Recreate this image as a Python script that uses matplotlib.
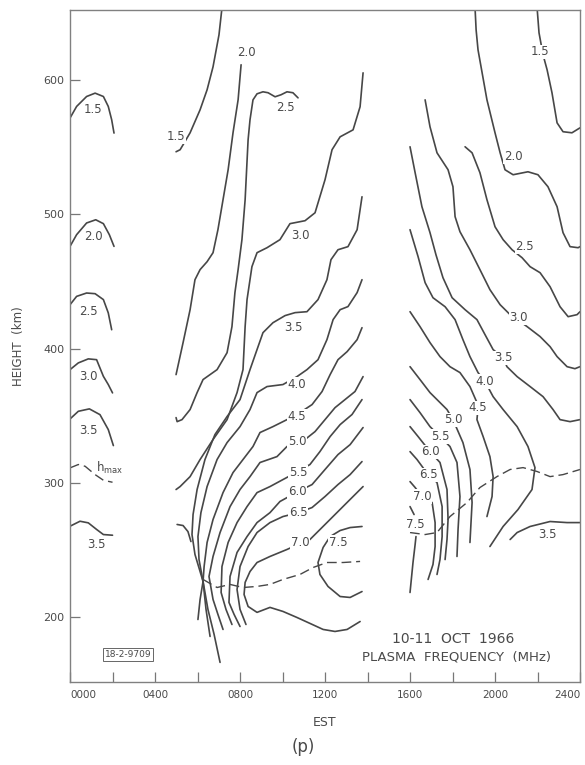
import matplotlib
matplotlib.use("Agg")
import matplotlib.pyplot as plt

plt.rcParams['font.family'] = ['DejaVu Sans']

# contour lines of plasma frequency, (EST hour, height km)
# left edge, 0000-0200
arc_15 = [(0, 571.6), (0.31, 580.2), (0.78, 587.6), (1.18, 590.1), (1.57, 587.6), (1.8, 580.2), (1.96, 570.3), (2.07, 560.4)]
arc_20 = [(0, 476.1), (0.31, 484.8), (0.78, 493.5), (1.21, 495.9), (1.57, 493.0), (1.85, 484.8), (2.07, 476.1)]
arc_25 = [(0, 432.7), (0.31, 438.9), (0.78, 441.4), (1.18, 440.9), (1.57, 436.5), (1.8, 426.6), (1.96, 414.1)]
arc_30 = [(0, 384.4), (0.39, 389.4), (0.86, 392.4), (1.25, 391.8), (1.57, 379.4), (1.8, 373.3), (2.0, 367.1)]
arc_35a = [(0, 347.7), (0.39, 353.4), (0.91, 355.2), (1.41, 350.9), (1.8, 339.8), (2.04, 327.9)]
arc_35b = [(0, 267.9), (0.47, 271.6), (0.86, 270.4), (1.25, 265.5), (1.57, 261.7), (2.0, 261.2)]
hmax_a = [(0, 311.3), (0.39, 313.8), (0.71, 312.5), (1.18, 306.3), (1.57, 302.1), (2.0, 300.6)]

# morning, 0500-1400
c15 = [(7.15, 653.5), (7.01, 633.5), (6.73, 609.7), (6.45, 592.6), (6.12, 577.7), (5.65, 560.6), (5.32, 551.7), (5.18, 548.0), (4.99, 546.5)]
c20 = [(8.05, 611.2), (7.91, 585.2), (7.67, 560.6), (7.44, 533.1), (7.2, 510.8), (6.96, 488.5), (6.73, 471.4), (6.45, 464.7),
       (6.12, 458.8), (5.88, 451.3), (5.65, 429.0), (5.32, 404.5), (4.99, 380.7)]
c25 = [(10.73, 586.6), (10.49, 590.4), (10.21, 591.1), (9.93, 588.9), (9.65, 587.4), (9.32, 590.4), (9.08, 591.1), (8.8, 589.6),
       (8.61, 585.1), (8.47, 570.3), (8.38, 555.4), (8.24, 510.8), (8.09, 481.1), (7.91, 458.8), (7.76, 441.7), (7.62, 416.4),
       (7.39, 397.0), (6.92, 384.4), (6.26, 377.0), (5.98, 367.3), (5.65, 354.7), (5.27, 347.2), (5.04, 345.7), (4.99, 348.7)]
c30 = [(13.79, 605.2), (13.65, 580.0), (13.32, 562.8), (12.71, 557.6), (12.33, 548.0), (12.0, 525.7), (11.53, 501.1), (11.06, 495.2),
       (10.35, 493.0), (9.88, 481.1), (9.27, 475.1), (8.8, 471.4), (8.56, 461.0), (8.33, 436.5), (8.24, 416.4), (8.14, 384.4),
       (7.86, 367.3), (7.39, 347.2), (6.73, 332.4), (6.12, 317.5), (5.65, 304.8), (5.18, 297.4), (4.99, 295.2)]
c35 = [(13.74, 513.0), (13.51, 488.5), (13.08, 475.9), (12.61, 473.6), (12.28, 466.2), (12.09, 451.3), (11.67, 436.5), (11.15, 427.5),
       (10.59, 426.8), (10.12, 424.6), (9.55, 419.3), (9.08, 411.9), (8.8, 399.3), (8.47, 384.4), (8.0, 362.1), (7.39, 349.5),
       (6.82, 336.1), (6.35, 317.5), (5.98, 295.2), (5.79, 276.6), (5.74, 261.7), (5.88, 246.9), (6.12, 234.2), (6.26, 226.8),
       (6.12, 213.4), (6.02, 198.5)]
c35_hook = [(5.04, 269.2), (5.32, 268.4), (5.55, 263.9), (5.69, 256.5)]
c40 = [(13.74, 451.3), (13.51, 441.7), (13.08, 431.3), (12.71, 429.0), (12.38, 421.6), (12.09, 406.7), (11.67, 391.8), (11.15, 384.4),
       (10.68, 379.2), (10.02, 373.3), (9.27, 371.8), (8.8, 367.3), (8.47, 354.7), (8.0, 342.0), (7.39, 330.1), (6.92, 317.5),
       (6.45, 297.4), (6.16, 278.0), (6.02, 260.2), (6.07, 243.1), (6.26, 226.8), (6.4, 206.0), (6.59, 185.9)]
c45 = [(13.74, 415.6), (13.51, 406.7), (13.04, 397.8), (12.61, 391.8), (12.24, 380.7), (11.86, 368.1), (11.39, 358.4), (10.82, 352.4),
       (10.21, 347.2), (9.55, 342.0), (8.94, 337.6), (8.61, 327.2), (8.14, 317.5), (7.67, 307.8), (7.2, 292.9), (6.73, 272.9),
       (6.45, 255.8), (6.31, 237.9), (6.26, 226.8), (6.49, 206.0), (6.78, 187.4), (7.06, 166.6)]
c50 = [(13.79, 379.2), (13.41, 368.1), (12.94, 362.1), (12.47, 356.1), (12.0, 347.2), (11.53, 338.3), (11.06, 332.4), (10.68, 330.1),
       (10.21, 327.2), (9.74, 319.7), (8.94, 315.3), (8.47, 304.8), (8.0, 295.2), (7.53, 282.5), (7.06, 263.2), (6.73, 245.4),
       (6.54, 230.5), (6.73, 213.4), (6.96, 202.3), (7.2, 191.1)]
c55 = [(13.74, 362.1), (13.27, 351.0), (12.71, 343.5), (12.24, 334.6), (11.76, 323.4), (11.29, 313.8), (10.73, 308.6), (10.02, 302.6),
       (9.41, 297.4), (8.8, 292.9), (8.33, 282.5), (7.86, 270.6), (7.44, 255.8), (7.15, 237.9), (7.11, 218.6), (7.34, 206.0), (7.62, 194.8)]
c60 = [(13.79, 341.3), (13.18, 328.6), (12.61, 321.2), (12.0, 310.1), (11.39, 298.9), (10.73, 293.7), (9.88, 286.3), (9.41, 278.0),
       (8.8, 270.6), (8.33, 260.2), (7.86, 248.4), (7.53, 230.5), (7.48, 211.2), (7.72, 202.3), (8.0, 193.3)]
c65 = [(13.74, 316.0), (13.18, 306.3), (12.61, 298.9), (12.0, 290.0), (11.39, 281.8), (10.73, 277.9), (10.02, 275.1), (9.41, 270.6),
       (8.8, 263.2), (8.38, 252.8), (8.0, 237.9), (7.86, 220.8), (8.0, 206.0), (8.28, 194.8)]
c70 = [(13.79, 297.4), (13.18, 287.8), (12.47, 276.6), (11.76, 265.4), (11.29, 258.0), (10.73, 254.3), (10.21, 250.6), (9.41, 245.4),
       (8.8, 240.9), (8.47, 234.2), (8.24, 226.1), (8.19, 217.1), (8.38, 208.2), (8.8, 203.8), (9.41, 207.5), (10.02, 204.5),
       (10.68, 200.0), (11.29, 195.6), (11.91, 191.1), (12.47, 189.6), (13.04, 191.1), (13.65, 197.0)]
c75 = [(13.74, 267.7), (13.18, 266.9), (12.71, 264.7), (12.24, 260.2), (11.91, 252.1), (11.67, 240.9), (11.76, 232.0), (12.14, 223.1),
       (12.71, 215.6), (13.18, 214.9), (13.74, 219.3)]
hmax_b = [(6.26, 228.3), (6.92, 222.3), (7.53, 224.6), (8.14, 222.3), (8.8, 223.1), (9.41, 224.6), (10.02, 228.3), (10.82, 232.0),
          (11.44, 237.2), (12.09, 240.9), (12.85, 240.9), (13.65, 241.7)]

# evening, 1600-2400
r15 = [(21.98, 653.5), (22.07, 635.0), (22.26, 618.6), (22.45, 607.5), (22.68, 590.4), (22.92, 568.0), (23.2, 561.4), (23.62, 560.6), (24.0, 564.3)]
r20 = [(19.06, 653.5), (19.11, 637.2), (19.2, 622.3), (19.62, 585.1), (20.0, 560.6), (20.24, 545.7), (20.47, 533.1), (20.85, 529.4),
       (21.55, 531.6), (22.02, 529.4), (22.49, 520.5), (22.92, 505.6), (23.2, 486.3), (23.53, 475.9), (23.91, 475.1), (24.0, 475.9)]
r25 = [(18.59, 550.2), (18.92, 545.7), (19.29, 530.9), (19.62, 510.8), (20.0, 490.7), (20.38, 481.1), (20.8, 473.6), (21.27, 467.7),
       (21.65, 461.0), (22.12, 456.5), (22.59, 446.1), (23.06, 431.2), (23.44, 423.8), (23.86, 425.3), (24.0, 427.5)]
r30 = [(16.71, 585.1), (16.94, 565.1), (17.27, 545.7), (17.79, 533.1), (18.02, 520.5), (18.12, 498.2), (18.35, 487.0), (18.82, 473.6),
       (19.29, 458.8), (19.76, 443.9), (20.24, 432.7), (20.71, 425.3), (21.18, 420.1), (21.51, 416.4), (22.12, 409.0), (22.59, 401.5),
       (22.92, 394.1), (23.39, 386.6), (23.76, 385.1), (24.0, 386.6)]
r35 = [(16.0, 550.2), (16.24, 530.9), (16.56, 505.6), (16.94, 486.3), (17.22, 469.9), (17.55, 452.8), (17.98, 437.9), (18.59, 429.0),
       (19.15, 421.6), (19.53, 410.4), (19.91, 399.3), (20.38, 393.3), (20.56, 386.6), (21.04, 379.2), (21.65, 371.8), (22.26, 364.3),
       (22.73, 354.7), (23.06, 347.2), (23.53, 345.7), (24.0, 347.2)]
r40 = [(16.0, 488.5), (16.38, 468.4), (16.71, 449.1), (17.08, 437.9), (17.65, 431.2), (18.12, 421.6), (18.49, 406.7), (18.82, 394.1),
       (19.2, 382.2), (19.53, 375.5), (19.91, 364.3), (20.38, 354.7), (21.04, 342.0), (21.55, 327.2), (21.88, 311.5), (21.74, 295.2),
       (21.08, 280.3), (20.38, 267.7), (19.76, 252.8)]
r45 = [(16.0, 427.5), (16.47, 416.4), (16.94, 404.5), (17.41, 394.1), (17.88, 386.6), (18.35, 382.2), (18.82, 371.8), (19.15, 359.9),
       (19.2, 356.1), (19.15, 347.2), (19.44, 334.6), (19.76, 319.7), (19.91, 304.8), (19.86, 290.0), (19.62, 275.1)]
r50 = [(16.0, 386.6), (16.47, 377.0), (16.94, 367.3), (17.41, 359.9), (17.74, 354.7), (18.02, 347.2), (18.49, 330.1), (18.82, 310.1),
       (18.92, 285.5), (18.82, 255.8)]
r55 = [(16.0, 362.1), (16.47, 352.4), (16.94, 342.0), (17.41, 334.6), (17.88, 327.2), (18.21, 315.3), (18.35, 290.0), (18.26, 265.4), (18.21, 245.4)]
r60 = [(16.0, 342.0), (16.38, 334.6), (16.94, 323.4), (17.41, 315.3), (17.74, 295.2), (17.79, 272.9), (17.74, 258.0), (17.65, 243.1)]
r65 = [(16.0, 323.4), (16.33, 317.5), (16.85, 306.3), (17.27, 300.4), (17.51, 282.5), (17.51, 260.2), (17.41, 243.1), (17.27, 232.0)]
r70 = [(16.0, 301.1), (16.24, 296.7), (16.56, 290.0), (17.04, 285.5), (17.18, 270.6), (17.18, 252.8), (17.08, 239.4), (16.85, 228.3)]
r75a = [(16.0, 282.5), (16.19, 276.6)]
r75b = [(16.28, 260.2), (16.24, 254.3), (16.14, 240.9), (16.0, 218.6)]
r35_low = [(20.71, 258.0), (21.04, 263.2), (21.65, 267.7), (22.59, 271.4), (23.39, 270.6), (24.0, 270.6)]
hmax_c = [(16.0, 263.2), (16.71, 261.7), (17.27, 263.2), (17.88, 275.1), (18.68, 285.5), (19.29, 296.7), (20.09, 304.8), (20.71, 310.1),
          (21.32, 311.5), (21.98, 308.6), (22.59, 304.8), (23.2, 306.3), (24.0, 310.1)]

# contour labels: text, EST hour, height
label_text = ['1.5', '2.0', '2.5', '3.0', '3.5', '3.5',
              '1.5', '2.0', '2.5', '3.0', '3.5', '4.0', '4.5', '5.0', '5.5', '6.0', '6.5', '7.0', '7.5',
              '1.5', '2.0', '2.5', '3.0', '3.5', '4.0', '4.5', '5.0', '5.5', '6.0', '6.5', '7.0', '7.5', '3.5']
label_t = [1.07, 1.1, 0.86, 0.86, 0.86, 1.25,
           5.0, 8.28, 10.12, 10.82, 10.49, 10.68, 10.68, 10.68, 10.73, 10.68, 10.73, 10.82, 12.61,
           22.12, 20.85, 21.4, 21.1, 20.38, 19.53, 19.2, 18.02, 17.41, 16.94, 16.85, 16.56, 16.24, 22.45]
label_h = [577.7, 483.5, 427.8, 379.0, 339.3, 254.3,
           557.6, 620.0, 579.2, 484.0, 415.6, 373.3, 349.5, 330.9, 307.8, 293.7, 278.0, 255.8, 255.8,
           620.8, 542.8, 476.0, 423.0, 393.3, 375.5, 356.1, 347.2, 334.6, 323.4, 306.3, 290.0, 269.2, 261.7]

solid_lines = [arc_15, arc_20, arc_25, arc_30, arc_35a, arc_35b,
               c15, c20, c25, c30, c35, c35_hook, c40, c45, c50, c55, c60, c65, c70, c75,
               r15, r20, r25, r30, r35, r40, r45, r50, r55, r60, r65, r70, r75a, r75b, r35_low]
dashed_lines = [hmax_a, hmax_b, hmax_c]

x_ticks = [0, 4, 8, 12, 16, 20, 24]
x_labels = ['0000', '0400', '0800', '1200', '1600', '2000', '2400']
y_ticks = [200, 300, 400, 500, 600]

line_col = '#474747'
text_col = '#4a4a4a'

fig = plt.figure(figsize=(5.85, 7.65), dpi=100)
ax = fig.add_axes([0.1197, 0.1085, 0.8718, 0.8785])

for ln in solid_lines:
    ax.plot([p[0] for p in ln], [p[1] for p in ln], color=line_col, lw=1.2,
            solid_joinstyle='round', solid_capstyle='round')
for ln in dashed_lines:
    ax.plot([p[0] for p in ln], [p[1] for p in ln], color=line_col, lw=1.0,
            linestyle=(0, (7, 3.5)))

for s, t, h in zip(label_text, label_t, label_h):
    ax.text(t, h, s, fontsize=8.5, color=text_col, ha='center', va='center',
            bbox=dict(fc='white', ec='none', pad=0.4))

ax.text(1.22, 311.5, r'h$_{\rm max}$', fontsize=8.5, color=text_col, ha='left', va='center')
ax.text(2.73, 172.5, '18-2-9709', fontsize=6.5, color=text_col, ha='center', va='center',
        bbox=dict(fc='white', ec='#666666', lw=0.7, pad=1.5))
ax.text(18.02, 183.7, '10-11  OCT  1966', fontsize=10, color=text_col, ha='center', va='center')
ax.text(18.21, 170.3, 'PLASMA  FREQUENCY  (MHz)', fontsize=9.5, color=text_col, ha='center', va='center')

ax.set_xlim(0, 24)
ax.set_ylim(152, 652)
ax.set_xticks(x_ticks)
ax.set_xticklabels(x_labels)
ax.set_xticks([2, 6, 10, 14, 18, 22], minor=True)
ax.set_yticks(y_ticks)
ax.tick_params(axis='both', which='both', direction='in', color='#777777', width=0.9,
               labelcolor=text_col)
ax.tick_params(axis='x', which='major', length=7, labelsize=7.5, pad=6)
ax.tick_params(axis='x', which='minor', length=7)
ax.tick_params(axis='y', which='major', length=7, labelsize=8, pad=4)
xl = ax.get_xticklabels()
xl[0].set_ha('left')
xl[-1].set_ha('right')

for sp in ax.spines.values():
    sp.set_color('#808080')
    sp.set_linewidth(1.0)

ax.set_xlabel('EST', fontsize=9, color=text_col, labelpad=11)
ax.set_ylabel('HEIGHT  (km)', fontsize=8.5, color=text_col, labelpad=13)
fig.text(0.518, 0.024, '(p)', fontsize=12, color=text_col, ha='center', va='center')

fig.savefig('out.png', dpi=100)
